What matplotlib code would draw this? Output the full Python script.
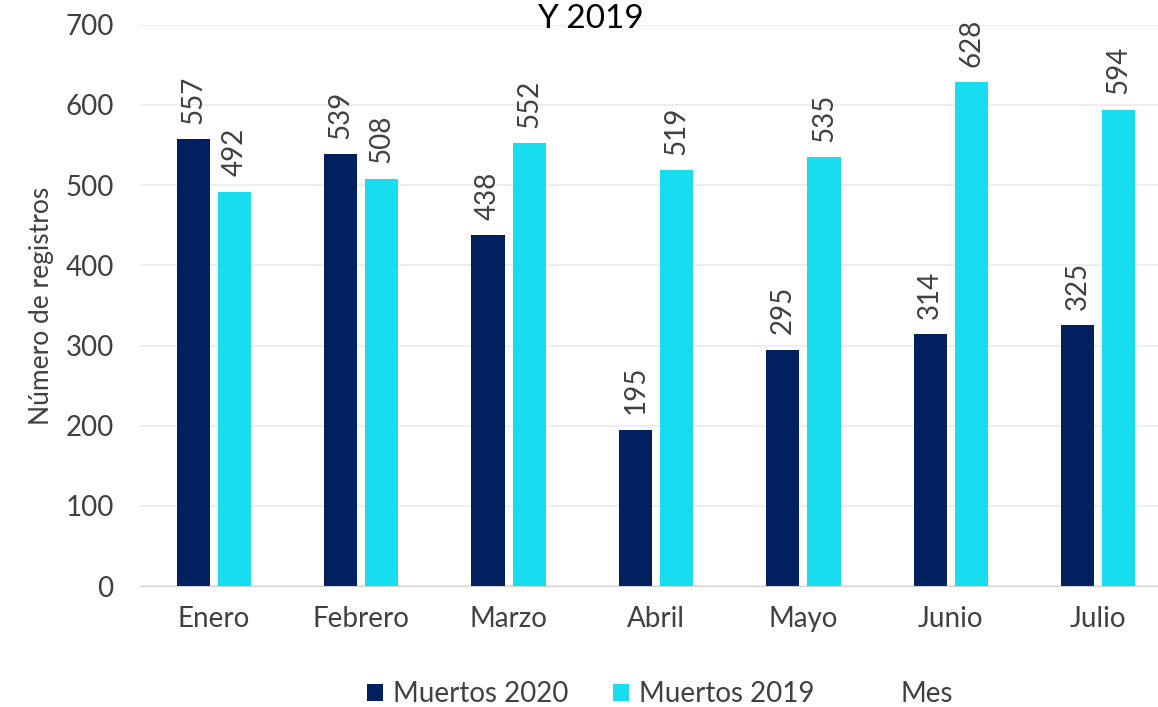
import matplotlib.pyplot as plt
import numpy as np

plt.rcParams['font.family'] = ['Lato', 'DejaVu Sans']

meses = ['Enero', 'Febrero', 'Marzo', 'Abril', 'Mayo', 'Junio', 'Julio']
muertos_2020 = [557, 539, 438, 195, 295, 314, 325]
muertos_2019 = [492, 508, 552, 519, 535, 628, 594]

c2020 = '#002060'
c2019 = '#17DDEF'
gris = '#404040'

fig = plt.figure(figsize=(11.58, 7.07), dpi=100)
ax = fig.add_axes([0.121, 0.171, 0.891, 0.794])

x = np.arange(len(meses))
w = 0.225
b1 = ax.bar(x - 0.14, muertos_2020, w, color=c2020, label='Muertos 2020')
b2 = ax.bar(x + 0.14, muertos_2019, w, color=c2019, label='Muertos 2019')

for bars in (b1, b2):
    for r in bars:
        ax.annotate(str(int(r.get_height())), (r.get_x() + r.get_width() / 2, r.get_height()),
                    xytext=(0, 11), textcoords='offset points', rotation=90,
                    ha='center', va='bottom', fontsize=20, color=gris)

ax.set_xlim(-0.5, 6.5)
ax.set_ylim(0, 700)
ax.set_yticks(range(0, 701, 100))
ax.set_xticks(x)
ax.set_xticklabels(meses)
ax.tick_params(axis='both', length=0, labelsize=20, labelcolor=gris)
ax.tick_params(axis='y', pad=19)
ax.tick_params(axis='x', pad=14)
ax.grid(axis='y', color='#EBEBEB', linewidth=1.2)
ax.set_axisbelow(True)
for s in ['top', 'right', 'left']:
    ax.spines[s].set_visible(False)
ax.spines['bottom'].set_color('#D0D0D0')

ax.set_ylabel('Número de registros', fontsize=19, color=gris, labelpad=8)

fig.text(0.51, 0.9604, 'Y 2019', ha='center', va='baseline', fontsize=24, color='black')

leg = fig.legend(loc='center', bbox_to_anchor=(0.51, 0.018), ncol=2, frameon=False,
                 fontsize=20, handlelength=0.6, handleheight=0.6, handletextpad=0.35,
                 columnspacing=1.6)
for t in leg.get_texts():
    t.set_color(gris)
fig.text(0.80, 0.018, 'Mes', ha='center', va='center', fontsize=20, color=gris)

fig.savefig('out.png', dpi=100)
